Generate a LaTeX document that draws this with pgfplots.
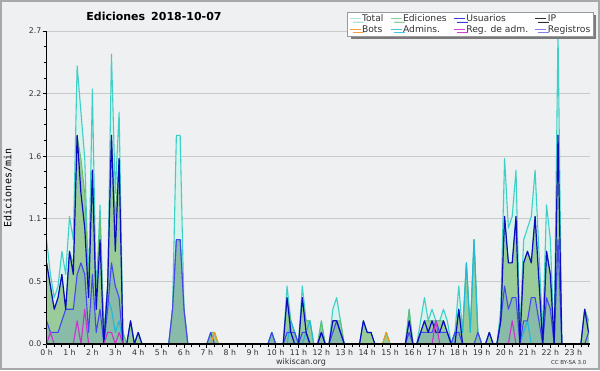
\documentclass[border=0pt]{standalone}
\usepackage{pgfplots}
\pgfplotsset{compat=1.18}
\usepackage{pgfplotstable}
\usepackage{fontspec}
\setmainfont{DejaVu Sans}
\setmonofont{DejaVu Sans Mono}
\usetikzlibrary{shadows}

\definecolor{bgc}{HTML}{EFF0F1}
\definecolor{bordergray}{HTML}{A8A8A8}
\definecolor{gridgray}{HTML}{CACACA}
\definecolor{labelgray}{HTML}{333333}
\definecolor{totfill}{HTML}{D8F2EC}
\definecolor{totline}{HTML}{3DD0C6}
\definecolor{edfill}{HTML}{99CC99}
\definecolor{edline}{HTML}{66BB66}
\definecolor{usfill}{HTML}{88BBA8}
\definecolor{usc}{HTML}{4646EE}
\definecolor{ipc}{HTML}{0C0CC0}
\definecolor{admc}{HTML}{22B8DD}
\definecolor{radmc}{HTML}{CC33CC}
\definecolor{botc}{HTML}{EE9922}
\definecolor{regc}{HTML}{8080F0}
\definecolor{lgtot}{HTML}{A8E6DC}
\definecolor{lged}{HTML}{8ED08E}
\definecolor{lgus}{HTML}{3A3AE0}
\definecolor{lgip}{HTML}{303030}
\definecolor{lgbot}{HTML}{F0A040}
\definecolor{lgadm}{HTML}{40C8E0}
\definecolor{lgradm}{HTML}{D040D8}
\definecolor{lgreg}{HTML}{8080F0}
\definecolor{shadowgray}{HTML}{7A7A7A}
\definecolor{legendgray}{HTML}{999999}

\pgfplotstableread{
j T E U I A R B L
0 0.9 0.7 0.2 0.7 0 0 0 0
1 0.6 0.5 0.1 0.5 0 0.1 0 0
2 0.4 0.3 0.1 0.3 0 0 0 0
3 0.5 0.4 0.1 0.4 0 0 0 0
4 0.8 0.6 0.2 0.6 0 0 0 0
5 0.6 0.3 0.3 0.3 0 0 0 0
6 1.1 0.8 0.3 0.8 0 0 0 0
7 0.9 0.7 0.3 0.6 0 0 0 0
8 2.4 1.8 0.6 1.8 0 0.2 0 0
9 2.0 1.6 0.7 1.3 0 0 0 0
10 1.6 1.3 0.6 1.0 0 0.3 0 0
11 0.5 0.5 0.1 0.4 0 0 0 0
12 2.2 1.5 0.6 1.5 0 0 0 0
13 0.4 0.4 0.1 0.3 0 0 0 0
14 1.2 1.1 0.3 0.9 0 0 0 0
15 0.1 0.1 0 0 0 0 0 0
16 0.5 0.5 0.3 0.5 0.4 0.1 0 0
17 2.5 1.8 0.7 1.8 0.3 0.1 0 0
18 1.3 1.1 0.5 0.8 0.1 0 0 0
19 2.0 1.6 0.4 1.6 0.2 0.1 0 0
20 0.1 0.1 0 0 0 0 0 0
21 0 0 0 0 0 0 0 0
22 0.2 0.2 0 0.2 0 0 0 0
23 0 0 0 0 0 0 0 0
24 0.1 0.1 0 0.1 0 0 0 0
25 0 0 0 0 0 0 0 0
32 0 0 0 0 0 0 0 0
33 0.3 0.3 0.3 0 0 0 0 0.3
34 1.8 0.9 0.9 0 0 0 0 0.9
35 1.8 0.9 0.9 0 0 0 0 0.9
36 0.3 0.3 0.3 0 0 0 0 0.3
37 0 0 0 0 0 0 0 0
42 0 0 0 0 0 0 0 0
43 0.1 0.1 0.1 0 0 0 0 0
44 0.1 0.1 0 0 0 0 0.1 0
45 0 0 0 0 0 0 0 0
58 0 0 0 0 0 0 0 0
59 0.1 0.1 0.1 0 0.1 0 0 0
60 0 0 0 0 0 0 0 0
62 0 0 0 0 0 0 0 0
63 0.5 0.4 0.1 0.4 0 0 0 0
64 0.2 0.2 0.1 0.1 0.2 0 0 0
65 0.1 0.1 0.1 0 0.1 0 0 0
66 0 0 0 0 0 0 0 0
67 0.5 0.4 0.1 0.4 0 0 0 0
68 0.2 0.2 0.1 0.1 0.1 0 0 0
69 0.2 0.2 0 0 0.2 0 0 0
70 0 0 0 0 0 0 0 0
71 0 0 0 0 0 0 0 0
72 0.2 0.2 0.1 0.1 0 0 0 0
73 0 0 0 0 0 0 0 0
74 0 0 0 0 0 0 0 0
75 0.3 0.2 0.1 0.2 0 0 0 0
76 0.4 0.2 0.2 0.2 0 0 0 0
77 0.2 0.2 0.1 0.1 0 0 0 0
78 0 0 0 0 0 0 0 0
82 0 0 0 0 0 0 0 0
83 0.2 0.2 0 0.2 0 0 0 0
84 0.1 0.1 0 0.1 0 0 0 0
85 0.1 0.1 0 0.1 0 0 0 0
86 0 0 0 0 0 0 0 0
88 0 0 0 0 0 0 0 0
89 0.1 0.1 0 0 0 0 0.1 0
90 0 0 0 0 0 0 0 0
94 0 0 0 0 0 0 0 0
95 0.3 0.3 0.1 0.2 0 0 0 0
96 0 0 0 0 0 0 0 0
97 0 0 0 0 0 0 0 0
98 0.2 0.1 0.1 0.1 0 0 0 0
99 0.4 0.2 0.1 0.2 0 0 0 0
100 0.2 0.2 0.1 0.1 0 0 0 0
101 0.3 0.2 0.1 0.2 0 0 0 0
102 0.2 0.2 0.2 0.1 0 0.2 0 0
103 0.2 0.2 0.1 0.1 0 0 0 0
104 0.3 0.2 0.1 0.2 0 0 0 0
105 0.2 0.1 0.1 0.1 0 0 0 0
106 0 0 0 0 0 0 0 0
107 0.1 0.1 0.1 0 0.1 0 0 0
108 0.5 0.3 0.1 0.3 0.1 0 0 0
109 0.1 0.1 0 0 0.1 0 0 0
110 0.7 0.7 0 0 0.7 0 0 0
111 0.1 0.1 0 0 0.1 0 0 0
112 0.9 0.9 0 0 0.9 0 0 0
113 0.1 0.1 0.1 0 0.1 0 0 0
114 0 0 0 0 0 0 0 0
115 0 0 0 0 0 0 0 0
116 0.1 0.1 0 0.1 0 0 0 0
117 0 0 0 0 0 0 0 0
118 0 0 0 0 0 0 0 0
119 0.3 0.2 0.2 0.2 0 0 0 0
120 1.6 1.1 0.5 1.1 0 0 0 0
121 1.0 0.7 0.3 0.7 0 0 0 0
122 1.1 0.7 0.4 0.7 0 0.2 0 0
123 1.5 1.1 0.4 1.1 0 0 0 0
124 0.1 0.1 0 0 0 0 0 0
125 0.9 0.7 0.2 0.7 0.1 0 0 0
126 1.0 0.8 0.2 0.8 0.2 0 0 0
127 1.1 0.7 0.4 0.7 0 0 0 0
128 1.5 1.1 0.4 1.1 0 0 0 0
130 0.1 0 0 0 0 0 0 0
131 1.2 0.8 0.4 0.8 0 0 0 0
132 0.9 0.6 0.3 0.6 0 0 0 0
133 0 0 0 0 0 0 0 0
134 2.7 1.8 0.9 1.8 0 0 0 0
135 0 0 0 0 0 0 0 0
140 0 0 0 0 0 0 0 0
141 0.3 0.3 0 0.3 0 0 0 0
142 0.2 0.2 0.1 0.1 0 0 0 0
}\datatab

\begin{document}
\begin{tikzpicture}
\useasboundingbox (0,0) rectangle (600pt,370pt);
\fill[bgc] (0,0) rectangle (600pt,370pt);
\begin{axis}[
  at={(46.6pt,26pt)}, anchor=south west,
  scale only axis, width=543.4pt, height=313pt,
  xmin=0, xmax=23.73, ymin=0, ymax=2.7,
  clip=false,
  axis lines*=left,
  axis line style={black, line width=1.3pt},
  xtick={0,1,...,23},
  xticklabels={0 h,1 h,2 h,3 h,4 h,5 h,6 h,7 h,8 h,9 h,10 h,11 h,12 h,13 h,14 h,15 h,16 h,17 h,18 h,19 h,20 h,21 h,22 h,23 h},
  minor xtick={0.33333,0.66667,...,23.7},
  ytick={0,0.54,1.08,1.62,2.16,2.7},
  yticklabels={0.0,0.5,1.1,1.6,2.2,2.7},
  minor y tick num=3,
  tick align=outside,
  major tick length=4pt, minor tick length=3pt,
  tick style={black, line width=0.8pt},
  ymajorgrids, grid style={draw=gridgray, line width=0.8pt},
  tick label style={font=\fontsize{7.8}{8}\selectfont, text=labelgray, inner sep=1pt},
  no markers,
  every axis plot/.append style={line join=round},
  legend columns=4,
  legend cell align=left,
  legend image code/.code={\draw[#1, line width=1pt] (0pt,0pt) -- (11pt,0pt);},
  legend style={at={(1,1)}, anchor=north east, xshift=3pt, yshift=19pt,
    draw=legendgray, fill=white, inner sep=1.5pt,
    font=\fontsize{9.2}{10}\selectfont, text=labelgray,
    nodes={inner sep=1pt},
    /tikz/every even column/.append style={column sep=5.5pt},
    drop shadow={shadow xshift=3pt, shadow yshift=-3pt, fill=shadowgray, opacity=1}},
]
\addlegendimage{lgtot}\addlegendentry{Total}
\addlegendimage{lged}\addlegendentry{Ediciones}
\addlegendimage{lgus}\addlegendentry{Usuarios}
\addlegendimage{lgip}\addlegendentry{IP}
\addlegendimage{lgbot}\addlegendentry{Bots}
\addlegendimage{lgadm}\addlegendentry{Admins.}
\addlegendimage{lgradm}\addlegendentry{Reg. de adm.}
\addlegendimage{lgreg}\addlegendentry{Registros}

\addplot[fill=totfill, draw=none, forget plot] table[x expr=\thisrow{j}/6, y=T] {\datatab} \closedcycle;
\addplot[fill=edfill, draw=none, forget plot] table[x expr=\thisrow{j}/6, y=E] {\datatab} \closedcycle;
\addplot[fill=usfill, draw=none, forget plot] table[x expr=\thisrow{j}/6, y=U] {\datatab} \closedcycle;
\addplot[regc, line width=1pt, forget plot] table[x expr=\thisrow{j}/6, y=L] {\datatab};
\addplot[totline, line width=1.1pt, forget plot] table[x expr=\thisrow{j}/6, y=T] {\datatab};
\addplot[edline, line width=0.8pt, forget plot] table[x expr=\thisrow{j}/6, y=E] {\datatab};
\addplot[admc, line width=1.1pt, forget plot] table[x expr=\thisrow{j}/6, y=A] {\datatab};
\addplot[usc, line width=1.1pt, forget plot] table[x expr=\thisrow{j}/6, y=U] {\datatab};
\addplot[ipc, line width=1.2pt, forget plot] table[x expr=\thisrow{j}/6, y=I] {\datatab};
\addplot[radmc, line width=1.1pt, forget plot] table[x expr=\thisrow{j}/6, y=R] {\datatab};
\addplot[botc, line width=1.1pt, forget plot] table[x expr=\thisrow{j}/6, y=B] {\datatab};

\draw[black, line width=1.3pt] (axis cs:0,0) -- (axis cs:23.73,0);
\draw[black, line width=1.3pt] (axis cs:0,0) -- (axis cs:0,2.7);
\end{axis}
\draw[bordergray, line width=2pt] (1pt,1pt) rectangle (599pt,369pt);
\node[font=\bfseries\fontsize{11}{13}\selectfont, text=black] at (154pt,353.3pt) {Ediciones\hspace{6pt}2018-10-07};
\node[rotate=90, font=\ttfamily\fontsize{10}{12}\selectfont, text=black] at (8pt,182pt) {Ediciones/min};
\node[font=\fontsize{8}{9}\selectfont, text=labelgray] at (301pt,8pt) {wikiscan.org};
\node[anchor=east, font=\fontsize{5.5}{6}\selectfont, text=labelgray] at (590pt,7.5pt) {CC BY-SA 3.0};
\end{tikzpicture}
\end{document}
